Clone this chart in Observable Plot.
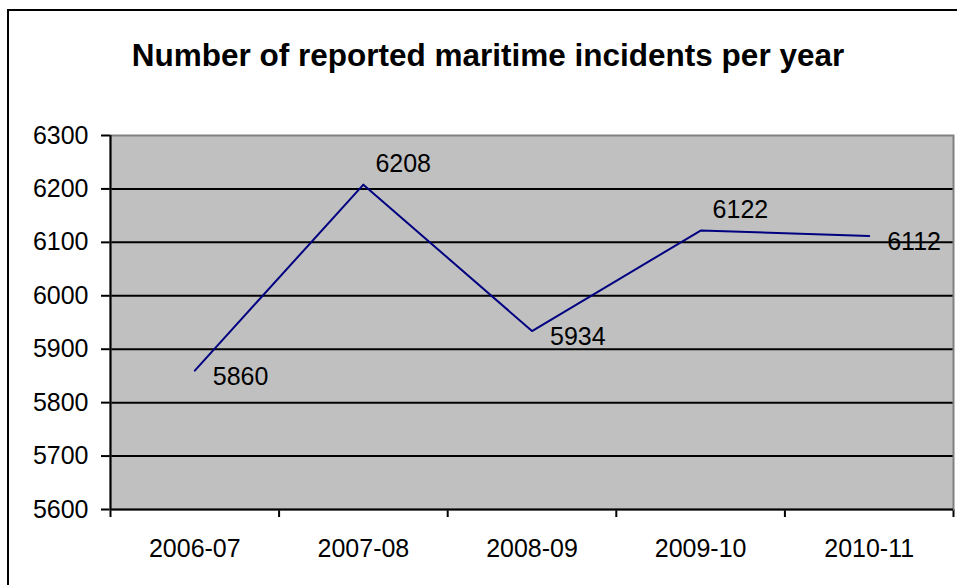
<!DOCTYPE html>
<html>
<head>
<meta charset="utf-8">
<script src="https://cdn.jsdelivr.net/npm/d3@7"></script>
<script src="https://cdn.jsdelivr.net/npm/@observablehq/plot@0.6"></script>
<style>
  html, body { margin: 0; padding: 0; background: #fff; }
  #wrap { position: relative; width: 957px; height: 585px; overflow: hidden; font-family: "Liberation Sans", Arial, sans-serif; }
  #chart { position: absolute; left: 0; top: 0; }
  #title { position: absolute; left: 0; width: 976px; top: 40px; text-align: center; font-weight: bold; font-size: 31.5px; line-height: 31.5px; color: #000; white-space: nowrap; }
  #border { position: absolute; left: 7px; top: 9px; width: 2000px; height: 2000px; border-left: 2px solid #000; border-top: 2px solid #000; pointer-events: none; }
  #chart svg g[aria-label="y-axis tick"] path, #chart svg g[aria-label="x-axis tick"] path { stroke-width: 2; }
</style>
</head>
<body>
<div id="wrap">
  <div id="chart"></div>
  <div id="title">Number of reported maritime incidents per year</div>
  <div id="border"></div>
</div>
<script>
const years = ["2006-07", "2007-08", "2008-09", "2009-10", "2010-11"];
const incidents = [5860, 6208, 5934, 6122, 6112];
const yTicks = [5600, 5700, 5800, 5900, 6000, 6100, 6200, 6300];

const data = years.map((year, i) => ({ i, year, value: incidents[i] }));
// label above a point if it is a local peak, below otherwise
const isPeak = (d) => {
  const prev = incidents[d.i - 1], next = incidents[d.i + 1];
  return (prev === undefined || d.value > prev) && (next === undefined || d.value > next);
};
const boundaries = d3.range(years.length + 1).map(k => k - 0.5);

const plot = Plot.plot({
  width: 957,
  height: 585,
  marginLeft: 110,
  marginRight: 4,
  marginTop: 135,
  marginBottom: 76,
  style: { fontFamily: "Liberation Sans, Arial, sans-serif", fontSize: "25px", color: "#000", background: "transparent" },
  x: { domain: [-0.5, years.length - 0.5], ticks: boundaries, tickFormat: () => "", tickSize: 8, label: null },
  y: { domain: [5600, 6300], ticks: yTicks, tickSize: 9, tickPadding: 13, tickFormat: d => String(d), label: null },
  marks: [
    Plot.frame({ fill: "#c0c0c0", stroke: null }),
    Plot.ruleY(yTicks.filter(v => v > 5600 && v < 6300), { stroke: "#000", strokeWidth: 2 }),
    Plot.frame({ stroke: "#808080", strokeWidth: 2 }),
    Plot.ruleX([-0.5], { stroke: "#000", strokeWidth: 2 }),
    Plot.ruleY([5600], { stroke: "#000", strokeWidth: 2 }),
    Plot.line(data, { x: "i", y: "value", stroke: "#000080", strokeWidth: 2 }),
    Plot.text(data.filter(isPeak), { x: "i", y: "value", text: d => String(d.value), textAnchor: "start", dx: 12, dy: -21, fill: "#000" }),
    Plot.text(data.filter(d => !isPeak(d)), { x: "i", y: "value", text: d => String(d.value), textAnchor: "start", dx: 18, dy: 6, fill: "#000" }),
    Plot.text(data, { x: "i", y: () => 5600, text: "year", dy: 39, fill: "#000" })
  ]
});
document.getElementById("chart").appendChild(plot);
</script>
</body>
</html>
